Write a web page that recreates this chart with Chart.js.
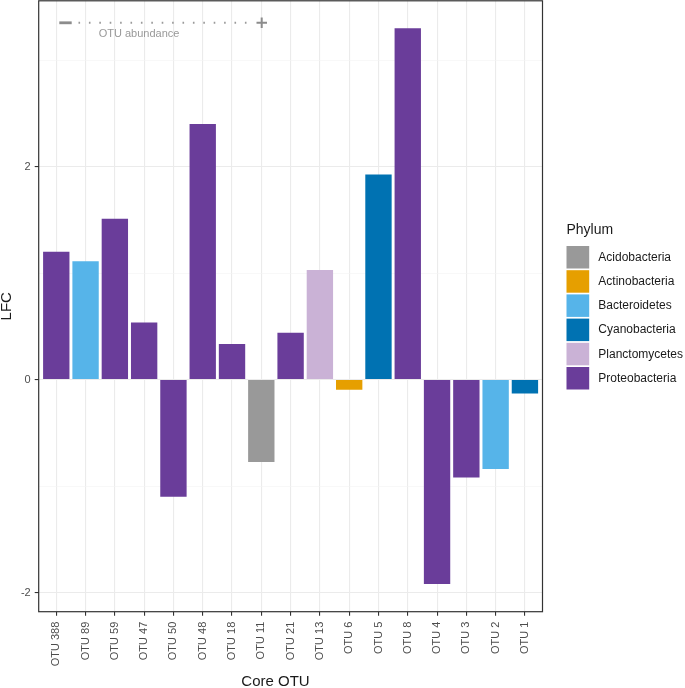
<!DOCTYPE html>
<html>
<head>
<meta charset="utf-8">
<script src="https://cdn.jsdelivr.net/npm/chart.js@4/dist/chart.umd.min.js"></script>
<style>
  html, body { margin: 0; padding: 0; background: #fff; }
  #wrap { width: 685px; height: 688px; }
</style>
</head>
<body>
<div id="wrap"><canvas id="chart-lfc"></canvas></div>
<script>
// core OTUs, in plotted order
const otus = ['OTU 388', 'OTU 89', 'OTU 59', 'OTU 47', 'OTU 50', 'OTU 48', 'OTU 18', 'OTU 11',
  'OTU 21', 'OTU 13', 'OTU 6', 'OTU 5', 'OTU 8', 'OTU 4', 'OTU 3', 'OTU 2', 'OTU 1']
const lfc = [1.20, 1.11, 1.51, 0.535, -1.10, 2.40, 0.335, -0.775,
  0.44, 1.03, -0.095, 1.925, 3.30, -1.92, -0.92, -0.84, -0.13]
const otuPhylum = ['Proteobacteria', 'Bacteroidetes', 'Proteobacteria', 'Proteobacteria', 'Proteobacteria',
  'Proteobacteria', 'Proteobacteria', 'Acidobacteria', 'Proteobacteria', 'Planctomycetes', 'Actinobacteria',
  'Cyanobacteria', 'Proteobacteria', 'Proteobacteria', 'Proteobacteria', 'Bacteroidetes', 'Cyanobacteria']

const phyla = ['Acidobacteria', 'Actinobacteria', 'Bacteroidetes', 'Cyanobacteria', 'Planctomycetes', 'Proteobacteria']
const phylumColors = ['#999999', '#e69f00', '#56b4e9', '#0072b2', '#cab2d6', '#6a3d9a']

const yTicks = [-2, 0, 2]

const FONT = "'Liberation Sans', Arial, sans-serif"

function colorOf(p) {
  return phylumColors[phyla.indexOf(p)]
}

// panel border, axis titles, legend and the abundance note
const extras = {
  id: 'extras',
  afterLayout(chart) {
    // ggplot style discrete expansion (0.6 of a category on each side)
    const s = chart.scales.x
    s._startValue = -0.6
    s._valueRange = otus.length - 1 + 1.2
  },
  afterDraw(chart) {
    const ctx = chart.ctx
    const a = chart.chartArea
    ctx.save()
    ctx.strokeStyle = '#333333'
    ctx.lineWidth = 1.2
    ctx.strokeRect(a.left, a.top, a.right - a.left, a.bottom - a.top)

    // axis titles
    ctx.fillStyle = '#1a1a1a'
    ctx.font = '15px ' + FONT
    ctx.textAlign = 'center'
    ctx.textBaseline = 'middle'
    ctx.fillText('Core OTU', 275.5, 682)
    ctx.save()
    ctx.translate(6.5, (a.top + a.bottom) / 2)
    ctx.rotate(-Math.PI / 2)
    ctx.fillText('LFC', 0, 0)
    ctx.restore()

    // legend
    ctx.textAlign = 'left'
    ctx.font = '14px ' + FONT
    ctx.textBaseline = 'alphabetic'
    ctx.fillText('Phylum', 566.5, 233.5)
    ctx.font = '12px ' + FONT
    ctx.textBaseline = 'middle'
    phyla.forEach(function(p, i) {
      const y = 246 + i * 24.2
      ctx.fillStyle = phylumColors[i]
      ctx.fillRect(566.5, y, 22.7, 22.5)
      ctx.fillStyle = '#1a1a1a'
      ctx.fillText(p, 598.3, y + 11.5)
    })

    // OTU abundance note
    ctx.fillStyle = '#8c8c8c'
    ctx.fillRect(59.3, 21.4, 12.4, 2.8)
    ctx.strokeStyle = '#9a9a9a'
    ctx.lineWidth = 2
    ctx.setLineDash([1.6, 8.8])
    ctx.beginPath()
    ctx.moveTo(78.5, 22.8)
    ctx.lineTo(252, 22.8)
    ctx.stroke()
    ctx.setLineDash([])
    ctx.strokeStyle = '#8c8c8c'
    ctx.beginPath()
    ctx.moveTo(256.5, 22.8); ctx.lineTo(267, 22.8)
    ctx.moveTo(261.7, 17.6); ctx.lineTo(261.7, 28)
    ctx.stroke()
    ctx.fillStyle = '#999999'
    ctx.font = '11px ' + FONT
    ctx.fillText('OTU abundance', 98.7, 34)
    ctx.restore()
  }
}

new Chart(document.getElementById('chart-lfc'),
  {
    type: 'bar',
    data: {
      labels: otus,
      datasets: [{
        label: 'LFC',
        data: lfc,
        backgroundColor: otuPhylum.map(colorOf),
        borderWidth: 0,
        barPercentage: 0.9,
        categoryPercentage: 1
      }]
    },
    options: {
      responsive: true,
      maintainAspectRatio: false,
      animation: false,
      layout: { padding: { top: 0.8, right: 142.5, left: 0, bottom: 0 } },
      plugins: {
        legend: { display: false },
        tooltip: { enabled: false }
      },
      scales: {
        x: {
          offset: true,
          grid: {
            offset: false,
            color: '#ebebeb',
            lineWidth: 1.1,
            tickColor: '#333333',
            tickLength: 4
          },
          border: { display: false },
          ticks: {
            autoSkip: false,
            maxRotation: 90,
            minRotation: 90,
            padding: 6,
            color: '#4d4d4d',
            font: { family: FONT, size: 11 }
          },
          afterFit: function(scale) {
            scale.height = 76.3
            scale.paddingLeft = 0
            scale.paddingRight = 0
          }
        },
        y: {
          min: -2.18,
          max: 3.557,
          grid: {
            color: function(c) { return c.tick && Math.abs(c.tick.value) % 2 === 1 ? '#f3f3f3' : '#ebebeb' },
            lineWidth: function(c) { return c.tick && Math.abs(c.tick.value) % 2 === 1 ? 0.6 : 1.1 },
            tickColor: function(c) { return c.tick && Math.abs(c.tick.value) % 2 === 1 ? 'rgba(0,0,0,0)' : '#333333' },
            tickLength: 4
          },
          border: { display: false },
          ticks: {
            stepSize: 1,
            includeBounds: false,
            padding: 4,
            color: '#4d4d4d',
            font: { family: FONT, size: 11 },
            callback: function(v) { return yTicks.includes(v) ? String(v) : '' }
          },
          afterFit: function(scale) {
            scale.width = 38.7
            scale.paddingTop = 0
            scale.paddingBottom = 0
          }
        }
      }
    },
    plugins: [extras]
  }
)
</script>
</body>
</html>
